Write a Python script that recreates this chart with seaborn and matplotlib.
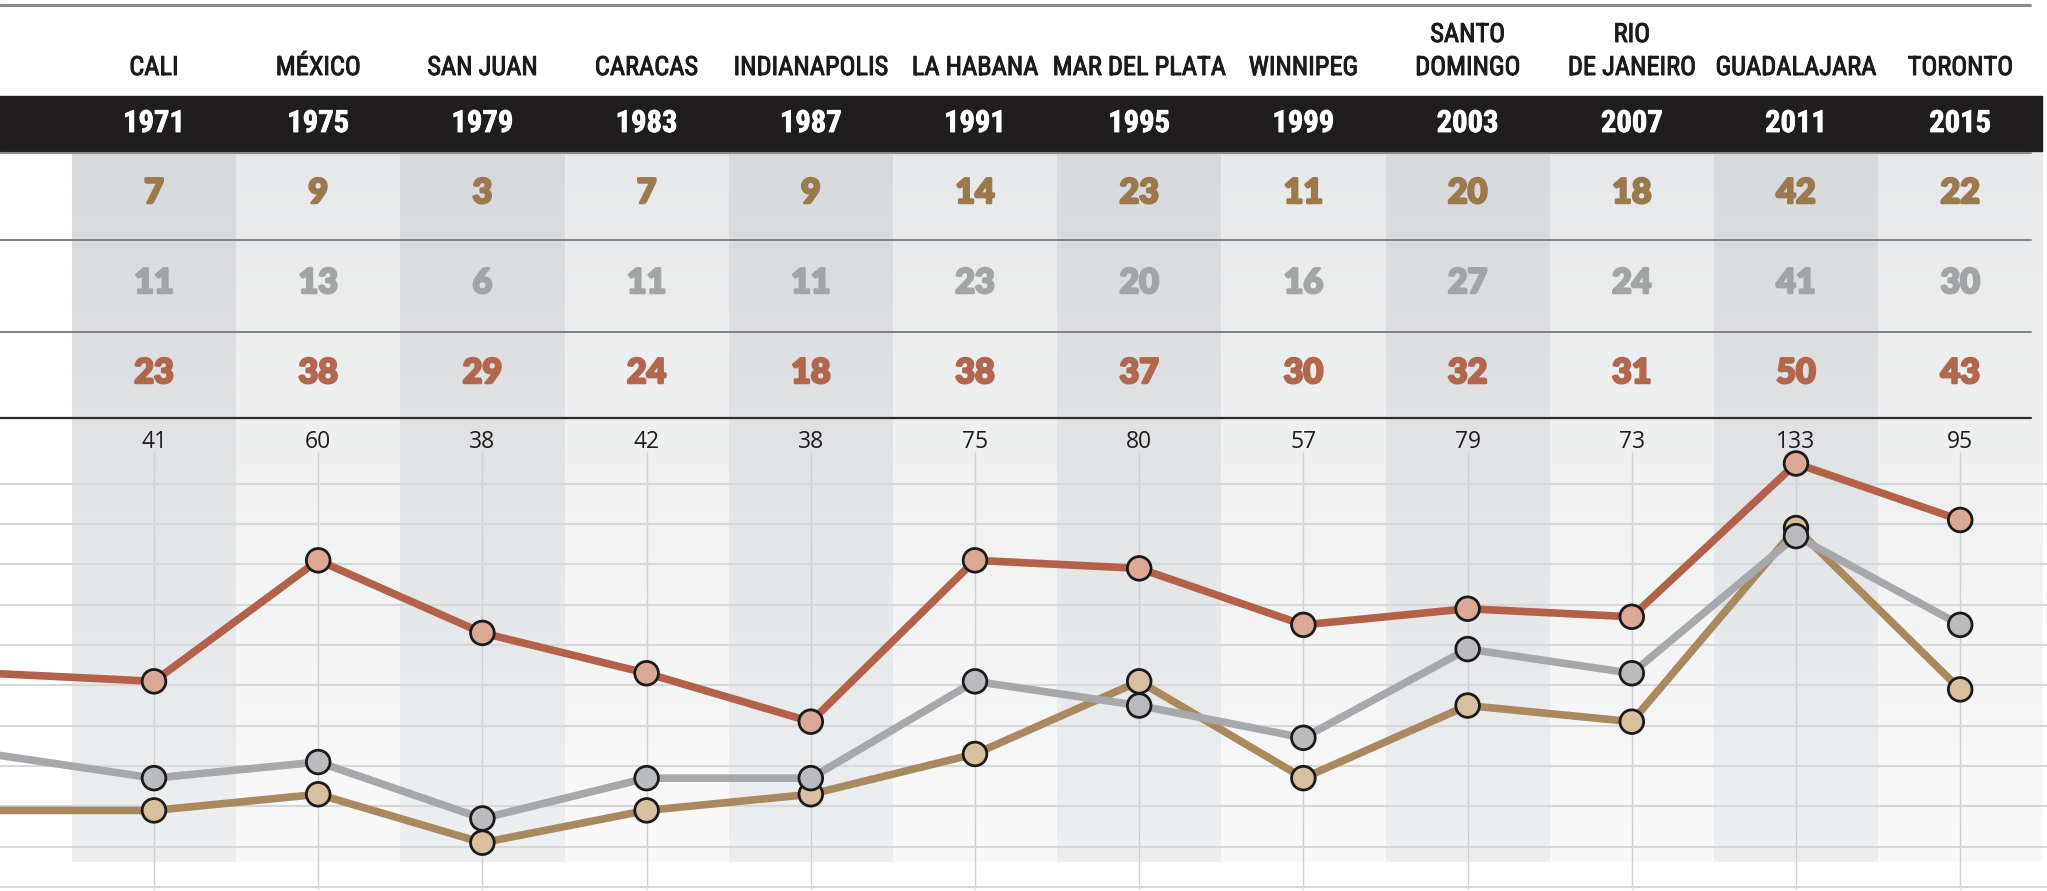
import numpy as np
import pandas as pd
import seaborn as sns
import matplotlib.pyplot as plt
import matplotlib.patheffects as pe
from matplotlib import font_manager as fm
from matplotlib.colors import LinearSegmentedColormap
from matplotlib.patches import Rectangle

sns.set_theme(style="white")


def pick_font(*names):
    for n in names:
        try:
            fm.findfont(fm.FontProperties(family=n), fallback_to_default=False)
            return n
        except ValueError:
            continue
    return "DejaVu Sans"


narrow = pick_font("Roboto Condensed", "Liberation Sans Narrow", "Open Sans Condensed", "Lato")
heavy = pick_font("Lato", "Open Sans", "DejaVu Sans")
plain = pick_font("Open Sans", "Lato", "DejaVu Sans")

# --- data ---
cities = ["CALI", "MÉXICO", "SAN JUAN", "CARACAS", "INDIANAPOLIS", "LA HABANA",
          "MAR DEL PLATA", "WINNIPEG", "SANTO\nDOMINGO", "RIO\nDE JANEIRO",
          "GUADALAJARA", "TORONTO"]
years = [1971, 1975, 1979, 1983, 1987, 1991, 1995, 1999, 2003, 2007, 2011, 2015]
gold = [7, 9, 3, 7, 9, 14, 23, 11, 20, 18, 42, 22]
silver = [11, 13, 6, 11, 11, 23, 20, 16, 27, 24, 41, 30]
bronze = [23, 38, 29, 24, 18, 38, 37, 30, 32, 31, 50, 43]
totals = [41, 60, 38, 42, 38, 75, 80, 57, 79, 73, 133, 95]
# previous games (1967), only the tail of each line is visible at the left edge
lead_in = [7, 14, 24]

medals = ["oro", "plata", "bronce"]
line_colors = {"oro": "#a98a60", "plata": "#a6a8ab", "bronce": "#b3614a"}
marker_colors = {"oro": "#d8bf9e", "plata": "#b9bbbe", "bronce": "#daa894"}
text_colors = {"oro": "#9a7a4c", "plata": "#a2a4a6", "bronce": "#b1674d"}

rows = []
for m, vals, first in zip(medals, [gold, silver, bronze], lead_in):
    rows.append((m, -1, first))
    for i, v in enumerate(vals):
        rows.append((m, i, v))
df = pd.DataFrame(rows, columns=["medalla", "pos", "cantidad"])

# --- figure ---
W, H = 2047, 891
fig = plt.figure(figsize=(W / 100, H / 100), dpi=100)
ax = fig.add_axes([0, 0, 1, 1])
xt = ax.get_xaxis_transform()


def fy(px):
    return 1 - px / H


def thick(color, w):
    return [pe.withStroke(linewidth=w, foreground=color)]


col_px, x0_px = 164.2, 154
ppu, base = 8.068, 866.9

# column shading
grad = np.linspace(0, 1, 256).reshape(-1, 1)
dark = LinearSegmentedColormap.from_list("dark", ["#d8d9dc", "#eeeff0"])
light = LinearSegmentedColormap.from_list("light", ["#e7e8e9", "#fafafa"])
for i in range(len(years)):
    ax.imshow(grad, cmap=dark if i % 2 == 0 else light, aspect="auto",
              extent=(i - 0.5, i + 0.5, fy(862), fy(152)), transform=xt,
              origin="upper", zorder=0)

ax.vlines(range(len(years)), fy(889), fy(452), transform=xt,
          colors="#cfd0d2", linewidth=1, zorder=1.5)

# table frame
ax.plot([0, 2030 / W], [fy(5)] * 2, transform=ax.transAxes, color="#8c8c8c", lw=2.2)
ax.add_patch(Rectangle((0, fy(151)), 2042 / W, 55 / H, transform=ax.transAxes,
                       color="#1f1d1e", zorder=2))
for ypx, c, lw in [(153, "#8a8a8a", 1.5), (240, "#7a7a7a", 1.3),
                   (332, "#7a7a7a", 1.3), (418, "#2e2e2e", 1.6)]:
    ax.plot([0, 2031 / W], [fy(ypx)] * 2, transform=ax.transAxes, color=c, lw=lw, zorder=2)

for i, (c, y) in enumerate(zip(cities, years)):
    for k, line in enumerate(reversed(c.split("\n"))):
        ax.text(i, fy(75 - 33 * k), line, transform=xt, ha="center", va="baseline",
                fontsize=19, color="#1c1a1b", family=narrow,
                path_effects=thick("#1c1a1b", 0.7))
    ax.text(i, fy(132), str(y), transform=xt, ha="center", va="baseline",
            fontsize=22, color="white", weight="bold", family=narrow,
            path_effects=thick("white", 0.6))
    for m, vals, base_px in zip(medals, [gold, silver, bronze], [203, 293, 383]):
        ax.text(i, fy(base_px), str(vals[i]), transform=xt, ha="center", va="baseline",
                fontsize=24.5, color=text_colors[m], weight="black", family=heavy,
                path_effects=thick(text_colors[m], 1.8))
    ax.text(i, fy(448), str(totals[i]), transform=xt, ha="center", va="baseline",
            fontsize=16.5, color="#1e1e1e", family=plain)

# lines and markers
sns.lineplot(data=df, x="pos", y="cantidad", hue="medalla", hue_order=medals,
             palette=line_colors, linewidth=5.5, estimator=None, sort=False,
             legend=False, ax=ax, zorder=3)
sns.scatterplot(data=df[df["pos"] >= 0], x="pos", y="cantidad", hue="medalla",
                hue_order=medals, palette=marker_colors, s=290, edgecolor="#1b1b1b",
                linewidth=2, legend=False, ax=ax, zorder=4)

# axes: grid lines only
ax.set_yticks(np.arange(-2.5, 50, 5))
ax.set_xticks([])
ax.grid(axis="y", color="#d6d7d9", linewidth=1.5)
ax.set_axisbelow("line")
ax.tick_params(length=0, labelleft=False, labelbottom=False)
for s in ax.spines.values():
    s.set_visible(False)
ax.set_xlabel("")
ax.set_ylabel("")
ax.set_facecolor("white")
ax.set_xlim(-x0_px / col_px, (W - x0_px) / col_px)
ax.set_ylim((base - H) / ppu, base / ppu)

fig.savefig("out.png", dpi=100)
